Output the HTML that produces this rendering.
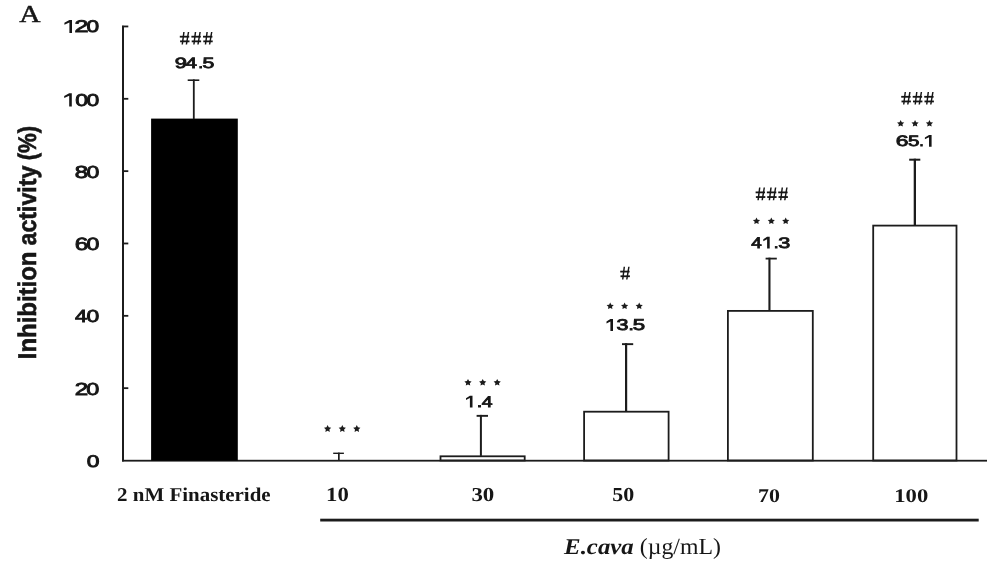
<!DOCTYPE html>
<html><head><meta charset="utf-8"><style>
html,body{margin:0;padding:0;background:#fff;}
body{width:992px;height:570px;overflow:hidden;}
svg{display:block;will-change:transform;}
</style></head><body>
<svg width="992" height="570" viewBox="0 0 992 570">
<rect width="992" height="570" fill="#fff"/>
<g fill="#1c1c1c">
<rect x="122" y="25.8" width="2" height="435.6"/>
<rect x="122" y="25.56" width="6.3" height="1.8"/>
<rect x="122" y="97.90" width="6.3" height="1.8"/>
<rect x="122" y="170.24" width="6.3" height="1.8"/>
<rect x="122" y="242.58" width="6.3" height="1.8"/>
<rect x="122" y="314.92" width="6.3" height="1.8"/>
<rect x="122" y="387.26" width="6.3" height="1.8"/>
<rect x="122" y="459.8" width="865" height="1.8"/>
<rect x="320.2" y="518.7" width="658.5" height="2.8"/>
<rect x="151.1" y="118.6" width="86.70" height="342.10" fill="#000"/>
<rect x="192.9" y="79.4" width="1.80" height="39.70"/>
<rect x="187.7" y="79.4" width="11.60" height="1.60"/>
<rect x="338.0" y="452.6" width="1.70" height="7.90"/>
<rect x="333.2" y="452.6" width="10.70" height="1.40"/>
<rect x="440.50" y="456.30" width="84.20" height="4.20" fill="none" stroke="#1c1c1c" stroke-width="1.8"/>
<rect x="479.9" y="414.9" width="2.00" height="41.00"/>
<rect x="476.6" y="414.9" width="11.40" height="1.90"/>
<rect x="584.10" y="411.70" width="84.50" height="48.80" fill="none" stroke="#1c1c1c" stroke-width="1.8"/>
<rect x="625.0" y="343.2" width="2.20" height="68.10"/>
<rect x="622.0" y="343.2" width="11.20" height="1.90"/>
<rect x="727.90" y="310.90" width="84.90" height="149.60" fill="none" stroke="#1c1c1c" stroke-width="1.8"/>
<rect x="768.4" y="257.7" width="2.10" height="52.80"/>
<rect x="765.6" y="257.7" width="11.20" height="1.80"/>
<rect x="873.20" y="225.60" width="83.30" height="234.90" fill="none" stroke="#1c1c1c" stroke-width="1.8"/>
<rect x="913.7" y="158.7" width="2.30" height="66.50"/>
<rect x="909.2" y="158.7" width="11.10" height="2.00"/>
<polygon points="327.60,425.00 328.71,427.30 331.20,427.67 329.40,429.47 329.82,432.00 327.60,430.80 325.38,432.00 325.80,429.47 324.00,427.67 326.49,427.30"/>
<polygon points="342.30,425.00 343.41,427.30 345.90,427.67 344.10,429.47 344.52,432.00 342.30,430.80 340.08,432.00 340.50,429.47 338.70,427.67 341.19,427.30"/>
<polygon points="356.80,425.00 357.91,427.30 360.40,427.67 358.60,429.47 359.02,432.00 356.80,430.80 354.58,432.00 355.00,429.47 353.20,427.67 355.69,427.30"/>
<polygon points="468.00,378.90 469.11,381.11 471.60,381.46 469.80,383.18 470.22,385.60 468.00,384.46 465.78,385.60 466.20,383.18 464.40,381.46 466.89,381.11"/>
<polygon points="482.70,378.90 483.81,381.11 486.30,381.46 484.50,383.18 484.92,385.60 482.70,384.46 480.48,385.60 480.90,383.18 479.10,381.46 481.59,381.11"/>
<polygon points="497.20,378.90 498.31,381.11 500.80,381.46 499.00,383.18 499.42,385.60 497.20,384.46 494.98,385.60 495.40,383.18 493.60,381.46 496.09,381.11"/>
<polygon points="610.20,302.60 611.31,304.71 613.80,305.04 612.00,306.68 612.42,309.00 610.20,307.91 607.98,309.00 608.40,306.68 606.60,305.04 609.09,304.71"/>
<polygon points="624.60,302.60 625.71,304.71 628.20,305.04 626.40,306.68 626.82,309.00 624.60,307.91 622.38,309.00 622.80,306.68 621.00,305.04 623.49,304.71"/>
<polygon points="639.20,302.60 640.31,304.71 642.80,305.04 641.00,306.68 641.42,309.00 639.20,307.91 636.98,309.00 637.40,306.68 635.60,305.04 638.09,304.71"/>
<polygon points="756.50,217.60 757.61,219.71 760.10,220.04 758.30,221.68 758.72,224.00 756.50,222.91 754.28,224.00 754.70,221.68 752.90,220.04 755.39,219.71"/>
<polygon points="771.30,217.60 772.41,219.71 774.90,220.04 773.10,221.68 773.52,224.00 771.30,222.91 769.08,224.00 769.50,221.68 767.70,220.04 770.19,219.71"/>
<polygon points="785.70,217.60 786.81,219.71 789.30,220.04 787.50,221.68 787.92,224.00 785.70,222.91 783.48,224.00 783.90,221.68 782.10,220.04 784.59,219.71"/>
<polygon points="900.65,120.10 901.76,122.21 904.25,122.54 902.45,124.18 902.87,126.50 900.65,125.41 898.43,126.50 898.85,124.18 897.05,122.54 899.54,122.21"/>
<polygon points="915.05,120.10 916.16,122.21 918.65,122.54 916.85,124.18 917.27,126.50 915.05,125.41 912.83,126.50 913.25,124.18 911.45,122.54 913.94,122.21"/>
<polygon points="929.45,120.10 930.56,122.21 933.05,122.54 931.25,124.18 931.67,126.50 929.45,125.41 927.23,126.50 927.65,124.18 925.85,122.54 928.34,122.21"/>
</g>
<g fill="#161616" text-rendering="geometricPrecision">
<rect x="179.80" y="35.79" width="9.40" height="1.8"/>
<rect x="180.10" y="40.45" width="9.40" height="1.8"/>
<path d="M183.18,31.90 L184.62,31.90 L183.03,44.50 L181.58,44.50 Z"/>
<path d="M187.78,31.90 L189.22,31.90 L187.12,44.50 L185.68,44.50 Z"/>
<rect x="191.40" y="35.79" width="9.40" height="1.8"/>
<rect x="191.70" y="40.45" width="9.40" height="1.8"/>
<path d="M194.78,31.90 L196.22,31.90 L194.62,44.50 L193.18,44.50 Z"/>
<path d="M199.38,31.90 L200.82,31.90 L198.72,44.50 L197.28,44.50 Z"/>
<rect x="203.00" y="35.79" width="9.40" height="1.8"/>
<rect x="203.30" y="40.45" width="9.40" height="1.8"/>
<path d="M206.38,31.90 L207.82,31.90 L206.22,44.50 L204.78,44.50 Z"/>
<path d="M210.97,31.90 L212.42,31.90 L210.32,44.50 L208.88,44.50 Z"/>
<rect x="620.20" y="270.69" width="9.40" height="1.8"/>
<rect x="620.50" y="275.35" width="9.40" height="1.8"/>
<path d="M623.58,266.80 L625.03,266.80 L623.43,279.40 L621.98,279.40 Z"/>
<path d="M628.18,266.80 L629.63,266.80 L627.53,279.40 L626.08,279.40 Z"/>
<rect x="755.60" y="191.49" width="9.40" height="1.8"/>
<rect x="755.90" y="196.15" width="9.40" height="1.8"/>
<path d="M758.98,187.60 L760.43,187.60 L758.83,200.20 L757.38,200.20 Z"/>
<path d="M763.58,187.60 L765.03,187.60 L762.93,200.20 L761.48,200.20 Z"/>
<rect x="766.90" y="191.49" width="9.40" height="1.8"/>
<rect x="767.20" y="196.15" width="9.40" height="1.8"/>
<path d="M770.27,187.60 L771.73,187.60 L770.12,200.20 L768.67,200.20 Z"/>
<path d="M774.88,187.60 L776.33,187.60 L774.23,200.20 L772.77,200.20 Z"/>
<rect x="778.20" y="191.49" width="9.40" height="1.8"/>
<rect x="778.50" y="196.15" width="9.40" height="1.8"/>
<path d="M781.58,187.60 L783.03,187.60 L781.43,200.20 L779.98,200.20 Z"/>
<path d="M786.18,187.60 L787.63,187.60 L785.53,200.20 L784.08,200.20 Z"/>
<rect x="901.20" y="95.89" width="9.40" height="1.8"/>
<rect x="901.50" y="100.55" width="9.40" height="1.8"/>
<path d="M904.58,92.00 L906.03,92.00 L904.43,104.60 L902.98,104.60 Z"/>
<path d="M909.18,92.00 L910.63,92.00 L908.53,104.60 L907.08,104.60 Z"/>
<rect x="912.70" y="95.89" width="9.40" height="1.8"/>
<rect x="913.00" y="100.55" width="9.40" height="1.8"/>
<path d="M916.08,92.00 L917.53,92.00 L915.93,104.60 L914.48,104.60 Z"/>
<path d="M920.68,92.00 L922.13,92.00 L920.03,104.60 L918.58,104.60 Z"/>
<rect x="924.20" y="95.89" width="9.40" height="1.8"/>
<rect x="924.50" y="100.55" width="9.40" height="1.8"/>
<path d="M927.58,92.00 L929.03,92.00 L927.43,104.60 L925.98,104.60 Z"/>
<path d="M932.18,92.00 L933.63,92.00 L931.53,104.60 L930.08,104.60 Z"/>
<text transform="translate(19.20 22.25) scale(1.2081 1)" font-family="Liberation Serif" font-weight="normal" font-style="normal" font-size="24.41" stroke="#161616" stroke-width="0.5">A</text>
<text transform="translate(117.05 501.49) scale(1.0679 1)" font-family="Liberation Serif" font-weight="bold" font-style="normal" font-size="19.62">2 nM Finasteride</text>
<text transform="translate(326.12 501.48) scale(1.1274 1)" font-family="Liberation Serif" font-weight="bold" font-style="normal" font-size="20.22">10</text>
<text transform="translate(471.38 501.49) scale(1.1593 1)" font-family="Liberation Serif" font-weight="bold" font-style="normal" font-size="19.78">30</text>
<text transform="translate(612.31 501.49) scale(1.1108 1)" font-family="Liberation Serif" font-weight="bold" font-style="normal" font-size="19.78">50</text>
<text transform="translate(758.07 501.50) scale(1.1327 1)" font-family="Liberation Serif" font-weight="bold" font-style="normal" font-size="19.35">70</text>
<text transform="translate(894.23 501.50) scale(1.1709 1)" font-family="Liberation Serif" font-weight="bold" font-style="normal" font-size="19.35">100</text>
<text transform="translate(564.09 553.95) scale(1.1058 1)" font-family="Liberation Serif" font-weight="bold" font-style="italic" font-size="22.47">E.cava</text>
<text transform="translate(639.76 553.87) scale(1.0346 1)" font-family="Liberation Serif" font-weight="normal" font-style="normal" font-size="23.00">(µg/mL)</text>
<path d="M69.40,20.00 L72.00,20.00 L72.00,32.90 L69.40,32.90 L69.40,22.58 L64.40,24.77 L64.40,22.71 Z"/>
<text transform="translate(74.56 32.21) scale(1.5042 1)" font-family="Liberation Sans" font-weight="normal" font-size="16.77" stroke="#161616" stroke-width="0.85">2</text>
<text transform="translate(86.47 32.21) scale(1.3539 1)" font-family="Liberation Sans" font-weight="normal" font-size="16.77" stroke="#161616" stroke-width="0.85">0</text>
<path d="M69.20,93.20 L71.80,93.20 L71.80,106.40 L69.20,106.40 L69.20,95.84 L64.20,98.08 L64.20,95.97 Z"/>
<text transform="translate(75.15 105.71) scale(1.3452 1)" font-family="Liberation Sans" font-weight="normal" font-size="17.18" stroke="#161616" stroke-width="0.85">0</text>
<text transform="translate(86.55 105.71) scale(1.3346 1)" font-family="Liberation Sans" font-weight="normal" font-size="17.18" stroke="#161616" stroke-width="0.85">0</text>
<text transform="translate(74.63 177.50) scale(1.3752 1)" font-family="Liberation Sans" font-weight="normal" font-size="17.46" stroke="#161616" stroke-width="0.85">8</text>
<text transform="translate(86.44 177.50) scale(1.3256 1)" font-family="Liberation Sans" font-weight="normal" font-size="17.46" stroke="#161616" stroke-width="0.85">0</text>
<text transform="translate(74.64 250.20) scale(1.3748 1)" font-family="Liberation Sans" font-weight="normal" font-size="17.74" stroke="#161616" stroke-width="0.85">6</text>
<text transform="translate(86.43 250.20) scale(1.3066 1)" font-family="Liberation Sans" font-weight="normal" font-size="17.74" stroke="#161616" stroke-width="0.85">0</text>
<text transform="translate(75.09 321.60) scale(1.2585 1)" font-family="Liberation Sans" font-weight="normal" font-size="17.46" stroke="#161616" stroke-width="0.85">4</text>
<text transform="translate(86.54 321.60) scale(1.3152 1)" font-family="Liberation Sans" font-weight="normal" font-size="17.46" stroke="#161616" stroke-width="0.85">0</text>
<text transform="translate(74.76 394.90) scale(1.3835 1)" font-family="Liberation Sans" font-weight="normal" font-size="17.46" stroke="#161616" stroke-width="0.85">2</text>
<text transform="translate(86.24 394.90) scale(1.3465 1)" font-family="Liberation Sans" font-weight="normal" font-size="17.46" stroke="#161616" stroke-width="0.85">0</text>
<text transform="translate(86.86 467.11) scale(1.3545 1)" font-family="Liberation Sans" font-weight="normal" font-size="16.90" stroke="#161616" stroke-width="0.85">0</text>
<text transform="translate(174.70 68.14) scale(1.4629 1)" font-family="Liberation Sans" font-weight="normal" font-size="14.96" stroke="#161616" stroke-width="0.85">9</text>
<text transform="translate(185.56 68.14) scale(1.3782 1)" font-family="Liberation Sans" font-weight="normal" font-size="14.96" stroke="#161616" stroke-width="0.85">4</text>
<text transform="translate(198.13 68.14) scale(1.1666 1)" font-family="Liberation Sans" font-weight="normal" font-size="14.96" stroke="#161616" stroke-width="0.85">.</text>
<text transform="translate(202.54 68.14) scale(1.4207 1)" font-family="Liberation Sans" font-weight="normal" font-size="14.96" stroke="#161616" stroke-width="0.85">5</text>
<path d="M469.90,395.70 L472.50,395.70 L472.50,407.50 L469.90,407.50 L469.90,398.06 L466.00,400.07 L466.00,398.18 Z"/>
<text transform="translate(476.70 406.84) scale(1.3114 1)" font-family="Liberation Sans" font-weight="normal" font-size="15.23" stroke="#161616" stroke-width="0.85">.</text>
<text transform="translate(481.84 406.84) scale(1.2751 1)" font-family="Liberation Sans" font-weight="normal" font-size="15.23" stroke="#161616" stroke-width="0.85">4</text>
<path d="M610.40,319.00 L613.00,319.00 L613.00,331.10 L610.40,331.10 L610.40,321.42 L606.50,323.48 L606.50,321.54 Z"/>
<text transform="translate(616.61 330.43) scale(1.3758 1)" font-family="Liberation Sans" font-weight="normal" font-size="15.65" stroke="#161616" stroke-width="0.85">3</text>
<text transform="translate(628.43 330.43) scale(1.2100 1)" font-family="Liberation Sans" font-weight="normal" font-size="15.65" stroke="#161616" stroke-width="0.85">.</text>
<text transform="translate(632.81 330.43) scale(1.4232 1)" font-family="Liberation Sans" font-weight="normal" font-size="15.65" stroke="#161616" stroke-width="0.85">5</text>
<text transform="translate(751.13 247.94) scale(1.2406 1)" font-family="Liberation Sans" font-weight="normal" font-size="15.23" stroke="#161616" stroke-width="0.85">4</text>
<path d="M767.10,236.80 L769.70,236.80 L769.70,248.60 L767.10,248.60 L767.10,239.16 L763.30,241.17 L763.30,239.28 Z"/>
<text transform="translate(773.72 247.94) scale(1.1525 1)" font-family="Liberation Sans" font-weight="normal" font-size="15.23" stroke="#161616" stroke-width="0.85">.</text>
<text transform="translate(778.13 247.94) scale(1.4217 1)" font-family="Liberation Sans" font-weight="normal" font-size="15.23" stroke="#161616" stroke-width="0.85">3</text>
<text transform="translate(895.87 146.04) scale(1.5140 1)" font-family="Liberation Sans" font-weight="normal" font-size="15.10" stroke="#161616" stroke-width="0.85">6</text>
<text transform="translate(908.04 146.04) scale(1.3600 1)" font-family="Liberation Sans" font-weight="normal" font-size="15.10" stroke="#161616" stroke-width="0.85">5</text>
<text transform="translate(919.19 146.04) scale(1.0795 1)" font-family="Liberation Sans" font-weight="normal" font-size="15.10" stroke="#161616" stroke-width="0.85">.</text>
<path d="M929.03,135.00 L931.60,135.00 L931.60,146.70 L929.03,146.70 L929.03,137.34 L924.90,139.33 L924.90,137.46 Z"/>
<text transform="translate(36.00 359.22) rotate(-90) scale(0.9976 1.0667)" font-family="Liberation Sans" font-weight="bold" font-size="24.00" stroke="#161616" stroke-width="0.55">Inhibition</text>
<text transform="translate(36.00 245.50) rotate(-90) scale(0.9646 1.0667)" font-family="Liberation Sans" font-weight="bold" font-size="24.00" stroke="#161616" stroke-width="0.55">activity</text>
<text transform="translate(36.00 160.29) rotate(-90) scale(0.9253 1.0667)" font-family="Liberation Sans" font-weight="bold" font-size="24.00" stroke="#161616" stroke-width="0.55">(%)</text>
</g>
</svg>
</body></html>
